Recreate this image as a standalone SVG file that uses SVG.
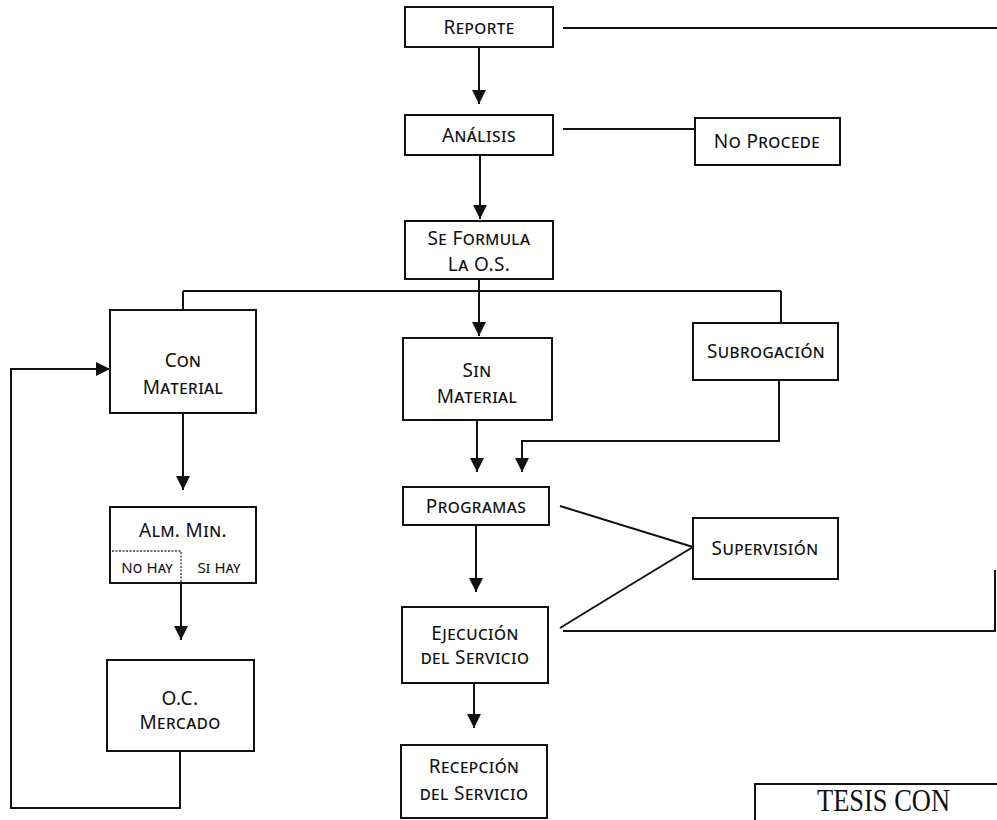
<svg xmlns="http://www.w3.org/2000/svg" width="997" height="820" viewBox="0 0 997 820">
  <style>
    .box { fill: #ffffff; stroke: #111111; stroke-width: 2; }
    .lbl { font-family: "Noto Sans", "Liberation Sans", sans-serif; font-size: 19px; font-variant: small-caps; fill: #111111; text-anchor: middle; letter-spacing: 0.4px; }
    .sm { font-size: 15px; letter-spacing: 0.2px; }
    .wire { fill: none; stroke: #111111; stroke-width: 2; }
    .arrow { fill: none; stroke: #111111; stroke-width: 2; marker-end: url(#head); }
    .div { fill: none; stroke: #333333; stroke-width: 1.3; stroke-dasharray: 2 1.5; }
    .stamp { font-family: "Liberation Serif", serif; font-size: 31px; fill: #111111; }
  </style>
  <defs>
    <marker id="head" markerUnits="userSpaceOnUse" markerWidth="14" markerHeight="16" refX="14" refY="7" orient="auto">
      <path d="M0,0 L14,7 L0,14 z" fill="#111111"/>
    </marker>
  </defs>
  <rect width="997" height="820" fill="#ffffff"/>

  <!-- connectors -->
  <g id="connectors">
    <path class="wire" d="M563,28 H997"/>
    <path class="arrow" d="M479,47 V104"/>
    <path class="wire" d="M563,129 H695"/>
    <path class="arrow" d="M480,155 V219"/>
    <path class="wire" d="M479,279 V291"/>
    <path class="wire" d="M183,291 H781"/>
    <path class="wire" d="M183,291 V310"/>
    <path class="wire" d="M781,291 V323"/>
    <path class="arrow" d="M479,291 V336"/>
    <path class="arrow" d="M477,420 V472"/>
    <path class="arrow" d="M779,380 V441 H522 V472"/>
    <path class="arrow" d="M183,413 V490"/>
    <path class="arrow" d="M181,583 V640"/>
    <path class="arrow" d="M180,751 V808 H11 V369 H110"/>
    <path class="arrow" d="M476,525 V592"/>
    <path class="wire" d="M560,506 L693,547"/>
    <path class="wire" d="M560,628 Q630,585 693,547"/>
    <path class="wire" d="M563,631 H995 V570"/>
    <path class="arrow" d="M474,683 V728"/>
  </g>

  <g id="reporte">
    <rect class="box" x="405" y="7" width="148" height="40"/>
    <text class="lbl" x="479" y="34">Reporte</text>
  </g>
  <g id="analisis">
    <rect class="box" x="405" y="115" width="148" height="40"/>
    <text class="lbl" x="479" y="142">Análisis</text>
  </g>
  <g id="no-procede">
    <rect class="box" x="695" y="118" width="145" height="47"/>
    <text class="lbl" x="767" y="148">No Procede</text>
  </g>
  <g id="se-formula">
    <rect class="box" x="405" y="221" width="148" height="58"/>
    <text class="lbl" x="479" y="245">Se Formula</text>
    <text class="lbl" x="479" y="271">La O.S.</text>
  </g>
  <g id="con-material">
    <rect class="box" x="110" y="310" width="146" height="103"/>
    <text class="lbl" x="183" y="367">Con</text>
    <text class="lbl" x="183" y="394">Material</text>
  </g>
  <g id="sin-material">
    <rect class="box" x="403" y="338" width="149" height="82"/>
    <text class="lbl" x="477" y="377">Sin</text>
    <text class="lbl" x="477" y="403">Material</text>
  </g>
  <g id="subrogacion">
    <rect class="box" x="693" y="323" width="145" height="57"/>
    <text class="lbl" x="766" y="358">Subrogación</text>
  </g>
  <g id="alm-min">
    <rect class="box" x="110" y="507" width="146" height="76"/>
    <text class="lbl" x="183" y="537">Alm. Min.</text>
    <path class="div" d="M112,551 H181 V583"/>
    <text class="lbl sm" x="147" y="573">No Hay</text>
    <text class="lbl sm" x="219" y="573">Si Hay</text>
  </g>
  <g id="oc-mercado">
    <rect class="box" x="107" y="660" width="147" height="91"/>
    <text class="lbl" x="180" y="705">O.C.</text>
    <text class="lbl" x="180" y="729">Mercado</text>
  </g>
  <g id="programas">
    <rect class="box" x="403" y="487" width="146" height="38"/>
    <text class="lbl" x="476" y="513">Programas</text>
  </g>
  <g id="supervision">
    <rect class="box" x="693" y="518" width="145" height="61"/>
    <text class="lbl" x="765" y="555">Supervisión</text>
  </g>
  <g id="ejecucion">
    <rect class="box" x="402" y="607" width="146" height="76"/>
    <text class="lbl" x="475" y="640">Ejecución</text>
    <text class="lbl" x="475" y="664">del Servicio</text>
  </g>
  <g id="recepcion">
    <rect class="box" x="401" y="745" width="146" height="73"/>
    <text class="lbl" x="474" y="773">Recepción</text>
    <text class="lbl" x="474" y="800">del Servicio</text>
  </g>

  <!-- stamp in the lower right corner -->
  <g id="stamp">
    <path class="wire" d="M755,820 V784 H997"/>
    <text class="stamp" x="817" y="811" textLength="133" lengthAdjust="spacingAndGlyphs">TESIS CON</text>
  </g>
</svg>
